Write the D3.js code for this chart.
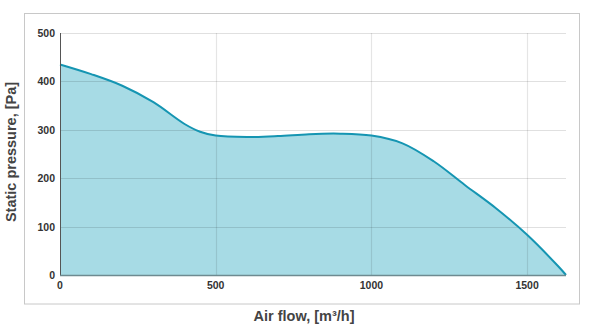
<!DOCTYPE html>
<html><head><meta charset="utf-8">
<script src="https://cdn.jsdelivr.net/npm/d3@7"></script>
<style>body{margin:0;background:#fff}svg{display:block}</style>
</head><body><svg id="c" width="600" height="327"></svg>
<script>
const airFlow = [0, 100, 200, 300, 400, 450, 500, 600, 700, 800, 900, 1000, 1100, 1200, 1300, 1400, 1500, 1600, 1625];
const pressure = [435, 415, 391, 357, 312, 296, 288, 285, 287, 291, 292, 288, 272, 235, 186, 138, 83, 18, 0];
const xTicks = [0, 500, 1000, 1500];
const yTicks = [0, 100, 200, 300, 400, 500];
const xTitle = "Air flow, [m³/h]";
const yTitle = "Static pressure, [Pa]";

const svg = d3.select("#c");
const m = {l: 60, t: 33, r: 566, b: 275};
const x = d3.scaleLinear().domain([0, 1625]).range([m.l, m.r]);
const y = d3.scaleLinear().domain([0, 500]).range([m.b, m.t]);
const data = airFlow.map((v, i) => ({x: v, y: pressure[i]}));

svg.append("rect").attr("x", 24.5).attr("y", 13.5).attr("width", 555).attr("height", 290.5)
  .attr("fill", "#fff").attr("stroke", "#c8c8c8").attr("stroke-width", 1);

const curve = d3.curveCatmullRom.alpha(0.5);
const area = d3.area().x(d => x(d.x)).y0(y(0)).y1(d => y(d.y)).curve(curve);
const line = d3.line().x(d => x(d.x)).y(d => y(d.y)).curve(curve);

svg.append("path").datum(data).attr("d", area).attr("fill", "#a7dbe5");

const grid = svg.append("g");
grid.selectAll(".h").data(yTicks.filter(t => t > 0)).join("line")
  .attr("x1", m.l).attr("x2", m.r).attr("y1", d => Math.round(y(d)) + 0.5).attr("y2", d => Math.round(y(d)) + 0.5)
  .attr("stroke", "rgba(0,0,0,0.12)").attr("stroke-width", 1.2);
grid.selectAll(".v").data(xTicks.filter(t => t > 0)).join("line")
  .attr("y1", m.t).attr("y2", m.b).attr("x1", d => Math.round(x(d)) + 0.5).attr("x2", d => Math.round(x(d)) + 0.5)
  .attr("stroke", "rgba(0,0,0,0.1)").attr("stroke-width", 1.2);

svg.append("path").datum(data).attr("d", line).attr("fill", "none")
  .attr("stroke", "#1595b2").attr("stroke-width", 2);

svg.append("line").attr("x1", m.l + 0.5).attr("x2", m.l + 0.5).attr("y1", m.t).attr("y2", m.b + 1)
  .attr("stroke", "#555").attr("stroke-width", 1);
svg.append("line").attr("x1", m.l).attr("x2", m.r).attr("y1", m.b + 0.5).attr("y2", m.b + 0.5)
  .attr("stroke", "#6e8a90").attr("stroke-width", 1.5);

const font = "Liberation Sans, Arial, sans-serif";
svg.append("g").selectAll("text").data(yTicks).join("text")
  .attr("x", 55).attr("y", d => y(d) + 4).attr("text-anchor", "end")
  .attr("font-family", font).attr("font-size", 10.5).attr("font-weight", "bold").attr("fill", "#333")
  .text(d => d);
svg.append("g").selectAll("text").data(xTicks).join("text")
  .attr("x", d => x(d)).attr("y", 289).attr("text-anchor", "middle")
  .attr("font-family", font).attr("font-size", 10.5).attr("font-weight", "bold").attr("fill", "#333")
  .text(d => d);

svg.append("text").attr("x", 304).attr("y", 321).attr("text-anchor", "middle")
  .attr("font-family", font).attr("font-size", 14.5).attr("font-weight", "bold").attr("fill", "#444")
  .text(xTitle);
svg.append("text").attr("transform", "translate(16,152) rotate(-90)").attr("text-anchor", "middle")
  .attr("font-family", font).attr("font-size", 14.5).attr("font-weight", "bold").attr("fill", "#444")
  .text(yTitle);
</script></body></html>
